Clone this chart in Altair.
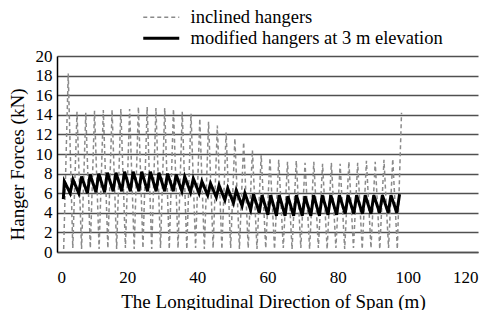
import altair as alt
import pandas as pd

series_names = ["inclined hangers", "modified hangers at 3 m elevation"]

# inclined hangers: zig-zag between trough (~0) and peak at each hanger
inc_x = [1.9, 3.2, 4.5, 5.7, 7.0, 8.2, 9.5, 10.7, 12.0, 13.2, 14.5, 15.7, 17.0, 18.2,
         19.5, 20.7, 22.0, 23.2, 24.5, 25.7, 27.0, 28.2, 29.5, 30.7, 32.0, 33.2, 34.5,
         35.7, 37.0, 38.2, 39.5, 40.7, 42.0, 43.2, 44.5, 45.7, 47.0, 48.2, 49.5, 50.7,
         52.0, 53.2, 54.5, 55.7, 57.0, 58.2, 59.5, 60.7, 62.0, 63.2, 64.5, 65.7, 67.0,
         68.2, 69.5, 70.7, 72.0, 73.2, 74.5, 75.7, 77.0, 78.2, 79.5, 80.7, 82.0, 83.2,
         84.5, 85.7, 87.0, 88.2, 89.5, 90.7, 92.0, 93.2, 94.5, 95.7, 97.0, 98.2]
inc_y = [0.3, 18.2, 0.4, 14.3, 0.3, 14.2, 0.4, 14.4, 0.3, 14.5, 0.4, 14.5, 0.3, 14.6,
         0.4, 14.6, 0.3, 14.8, 0.4, 14.8, 0.3, 14.7, 0.4, 14.7, 0.3, 14.6, 0.4,
         14.3, 0.3, 14.1, 0.4, 13.6, 0.3, 13.3, 0.4, 12.9, 0.3, 12.2, 0.4, 11.6,
         0.3, 11.2, 0.4, 10.4, 0.3, 9.9, 0.4, 9.6, 0.3, 9.4, 0.4, 9.2, 0.3,
         9.3, 0.4, 9.1, 0.3, 9.2, 0.4, 9.0, 0.3, 9.1, 0.4, 9.0, 0.3, 9.2,
         0.4, 9.1, 0.3, 9.3, 0.4, 9.2, 0.3, 9.4, 0.4, 9.5, 0.3, 14.2]

# modified hangers: sawtooth (steep rise, slow fall)
mod_x = [1.8, 2.1, 3.75, 4.55, 6.2, 7.0, 8.65, 9.45, 11.1, 11.9, 13.55, 14.35, 16.0, 16.8,
         18.45, 19.25, 20.9, 21.7, 23.35, 24.15, 25.8, 26.6, 28.25, 29.05, 30.7, 31.5,
         33.15, 33.95, 35.6, 36.4, 38.05, 38.85, 40.5, 41.3, 42.95, 43.75, 45.4, 46.2,
         47.85, 48.65, 50.3, 51.1, 52.75, 53.55, 55.2, 56.0, 57.65, 58.45, 60.1, 60.9,
         62.55, 63.35, 65.0, 65.8, 67.45, 68.25, 69.9, 70.7, 72.35, 73.15, 74.8, 75.6,
         77.25, 78.05, 79.7, 80.5, 82.15, 82.95, 84.6, 85.4, 87.05, 87.85, 89.5, 90.3,
         91.95, 92.75, 94.4, 95.2, 96.85, 97.65]
mod_y = [5.4, 7.2, 6.0, 7.4, 6.0, 7.7, 6.0, 7.9, 6.1, 8.0, 6.1, 8.1, 6.2, 8.1,
         6.2, 8.2, 6.2, 8.2, 6.2, 8.2, 6.2, 8.2, 6.2, 8.1, 6.2, 8.0,
         6.2, 7.9, 6.2, 7.7, 6.1, 7.5, 6.0, 7.2, 5.8, 7.0, 5.6, 6.8,
         5.3, 6.5, 5.0, 6.3, 4.7, 6.0, 4.3, 5.9, 4.0, 5.8, 3.8, 5.8,
         3.7, 5.8, 3.7, 5.7, 3.7, 5.8, 3.7, 5.7, 3.7, 5.8, 3.7, 5.8,
         3.8, 5.8, 3.8, 5.8, 3.9, 5.8, 3.9, 5.8, 3.9, 5.8, 3.9, 5.8,
         4.0, 5.8, 4.0, 5.8, 4.0, 5.9]

x_ticks = [0, 20, 40, 60, 80, 100, 120]
y_ticks = [0, 2, 4, 6, 8, 10, 12, 14, 16, 18, 20]

rows = []
for i, (xv, yv) in enumerate(zip(inc_x, inc_y)):
    rows.append({"x": xv, "y": yv, "series": series_names[0], "order": i})
for i, (xv, yv) in enumerate(zip(mod_x, mod_y)):
    rows.append({"x": xv, "y": yv, "series": series_names[1], "order": i})
df = pd.DataFrame(rows)

FONT = "Liberation Serif"

chart = alt.Chart(df).mark_line().encode(
    x=alt.X("x:Q", scale=alt.Scale(domain=[0, 120], nice=False),
            axis=alt.Axis(values=x_ticks, title="The Longitudinal Direction of Span (m)",
                          grid=False, ticks=False, domain=True, domainColor="#505050",
                          domainWidth=1.5, labelPadding=17, titlePadding=7,
                          titleX=216, titleFontSize=19)),
    y=alt.Y("y:Q", scale=alt.Scale(domain=[0, 20], nice=False),
            axis=alt.Axis(values=y_ticks, title="Hanger Forces (kN)", grid=True,
                          gridColor="#505050", gridWidth=1.5, gridOpacity=1,
                          ticks=False, domain=True, domainColor="#000000",
                          domainWidth=1.5, labelPadding=5, titlePadding=8,
                          titleY=108, titleFontSize=19)),
    color=alt.Color("series:N", scale=alt.Scale(domain=series_names,
                                                  range=["#8a8a8a", "#000000"]),
                    legend=alt.Legend(title=None)),
    strokeDash=alt.StrokeDash("series:N", scale=alt.Scale(domain=series_names,
                                                            range=[[4, 3], [1, 0]]),
                              legend=alt.Legend(title=None)),
    strokeWidth=alt.StrokeWidth("series:N", scale=alt.Scale(domain=series_names,
                                                             range=[1.5, 3.0]),
                                legend=alt.Legend(title=None)),
    order="order:Q",
).properties(
    width=421, height=196,
    autosize=alt.AutoSizeParams(type="none"),
    padding={"left": 49, "top": 48, "right": 4, "bottom": 58},
).configure_view(
    stroke=None
).configure_axis(
    labelFont=FONT, titleFont=FONT, labelFontSize=17,
    labelColor="#000000", titleColor="#000000", titleFontWeight="normal",
).configure_legend(
    orient="none", legendX=95, legendY=-48, direction="vertical",
    labelFont=FONT, labelFontSize=18.5, labelColor="#000000", labelLimit=0,
    symbolType="M-3,0L3,0", symbolSize=144, labelOffset=20, rowPadding=2,
)

chart.save("out.html", embed_options={"renderer": "svg", "actions": False})
